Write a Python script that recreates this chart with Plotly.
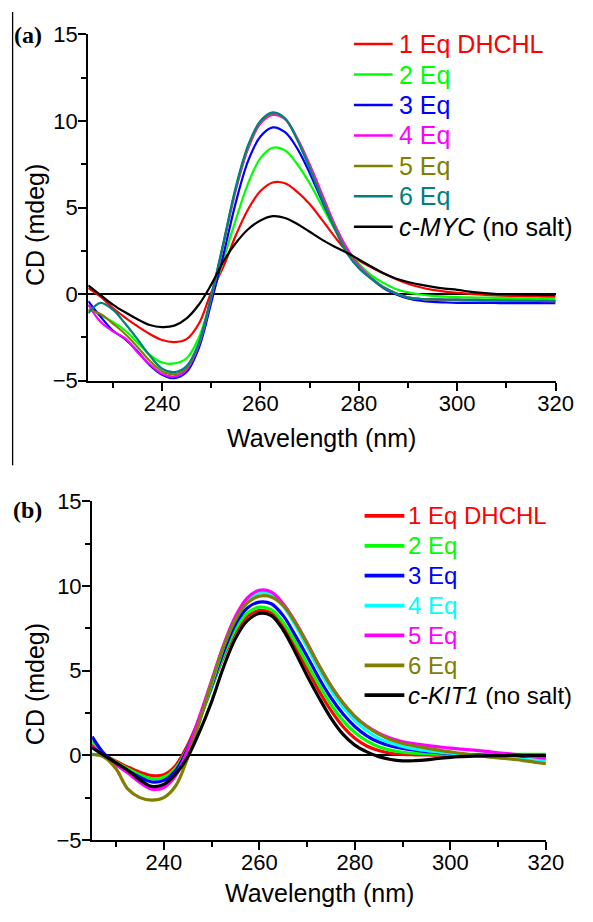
import plotly.graph_objects as go

W, H = 593, 922

wavelength = [225, 227.5, 230, 232.5, 235, 237.5, 240, 242.5, 245, 247.5, 250, 252.5, 255,
              257.5, 260, 262.5, 265, 267.5, 270, 272.5, 275, 277.5, 280, 282.5, 285, 287.5,
              290, 292.5, 295, 297.5, 300, 302.5, 305, 307.5, 310, 312.5, 315, 317.5, 320]

# ---- panel (a): c-MYC ----
myc_names = ["1 Eq DHCHL", "2 Eq", "3 Eq", "4 Eq", "5 Eq", "6 Eq", "<i>c-MYC</i> (no salt)"]
myc_colors = ["#ff0000", "#00ff00", "#0000ff", "#ff00ff", "#808000", "#008080", "#000000"]
myc_1eq = [0.35, -0.15, -0.8, -1.35, -1.85, -2.3, -2.65, -2.77, -2.6, -1.7, 0.1, 1.6, 3.4, 4.9,
           5.95, 6.45, 6.4, 5.9, 5.2, 4.3, 3.35, 2.5, 1.95, 1.55, 1.2, 0.88, 0.6, 0.4, 0.25, 0.15,
           0.08, 0.02, -0.03, -0.07, -0.1, -0.12, -0.13, -0.14, -0.15]
myc_2eq = [-0.65, -1.2, -1.6, -2.1, -2.8, -3.5, -3.95, -4.0, -3.7, -2.5, -0.3, 2.0, 4.3, 6.4,
           7.85, 8.45, 8.3, 7.5, 6.4, 5.1, 3.8, 2.65, 1.75, 1.1, 0.65, 0.3, 0.1, -0.02, -0.1, -0.14,
           -0.17, -0.19, -0.2, -0.21, -0.22, -0.24, -0.25, -0.27, -0.28]
myc_3eq = [-0.4, -1.3, -2.1, -2.6, -3.3, -4.1, -4.65, -4.85, -4.5, -3.1, -0.5, 2.3, 5.3, 7.7,
           9.1, 9.63, 9.35, 8.4, 7.0, 5.4, 3.9, 2.6, 1.6, 0.9, 0.35, 0.0, -0.25, -0.38, -0.45, -0.48,
           -0.5, -0.5, -0.51, -0.51, -0.52, -0.52, -0.52, -0.52, -0.52]
myc_4eq = [-0.6, -1.6, -2.15, -2.55, -3.35, -4.05, -4.6, -4.75, -4.35, -2.9, -0.2, 2.9, 6.0, 8.4,
           9.85, 10.35, 10.1, 9.0, 7.5, 5.8, 4.1, 2.7, 1.65, 0.95, 0.4, 0.05, -0.18, -0.28, -0.32,
           -0.34, -0.35, -0.36, -0.37, -0.38, -0.38, -0.39, -0.39, -0.4, -0.4]
myc_5eq = [-0.9, -1.15, -1.7, -2.3, -3.05, -3.85, -4.45, -4.62, -4.25, -2.85, -0.15, 2.95, 6.1, 8.5,
           9.95, 10.45, 10.12, 8.95, 7.35, 5.6, 3.95, 2.5, 1.55, 0.92, 0.4, 0.05, -0.19, -0.27, -0.3,
           -0.31, -0.32, -0.33, -0.34, -0.35, -0.36, -0.37, -0.38, -0.39, -0.4]
myc_6eq = [-1.1, -0.5, -0.9, -1.7, -2.6, -3.55, -4.3, -4.5, -4.15, -2.8, -0.1, 3.0, 6.2, 8.6,
           10.0, 10.5, 10.15, 8.9, 7.25, 5.5, 3.85, 2.4, 1.5, 0.9, 0.4, 0.05, -0.2, -0.28, -0.3,
           -0.31, -0.32, -0.33, -0.34, -0.35, -0.36, -0.37, -0.38, -0.39, -0.4]
myc_nosalt = [0.5, -0.05, -0.6, -1.05, -1.45, -1.78, -1.9, -1.82, -1.4, -0.6, 0.55, 1.9, 2.95, 3.75,
              4.25, 4.5, 4.4, 4.05, 3.6, 3.15, 2.75, 2.4, 2.0, 1.6, 1.2, 0.9, 0.7, 0.55, 0.42, 0.32,
              0.25, 0.15, 0.07, 0.02, 0.0, -0.02, -0.03, -0.04, -0.04]
myc_series = [myc_1eq, myc_2eq, myc_3eq, myc_4eq, myc_5eq, myc_6eq, myc_nosalt]

# ---- panel (b): c-KIT1 ----
kit_names = ["1 Eq DHCHL", "2 Eq", "3 Eq", "4 Eq", "5 Eq", "6 Eq", "<i>c-KIT1</i> (no salt)"]
kit_colors = ["#ff0000", "#00ff00", "#0000ff", "#00ffff", "#ff00ff", "#808000", "#000000"]
kit_1eq = [0.65, 0.05, -0.35, -0.7, -1.0, -1.2, -1.15, -0.6, 0.6, 2.2, 4.0, 5.8, 7.3, 8.2, 8.55,
           8.4, 7.6, 6.4, 5.1, 3.8, 2.65, 1.7, 1.0, 0.55, 0.28, 0.12, 0.05, 0.03, 0.02, 0.01, 0.0,
           0.0, 0.0, 0.0, 0.0, 0.0, 0.0, 0.0, 0.0]
kit_2eq = [0.85, 0.05, -0.4, -0.8, -1.15, -1.38, -1.3, -0.75, 0.45, 2.1, 4.0, 5.9, 7.45, 8.4, 8.75,
           8.6, 7.85, 6.7, 5.4, 4.15, 3.0, 2.05, 1.35, 0.85, 0.5, 0.3, 0.18, 0.12, 0.09, 0.07, 0.06,
           0.05, 0.05, 0.05, 0.05, 0.05, 0.05, 0.05, 0.05]
kit_3eq = [1.1, 0.1, -0.45, -0.9, -1.3, -1.58, -1.48, -0.9, 0.4, 2.15, 4.1, 6.1, 7.75, 8.7, 9.05,
           8.95, 8.25, 7.1, 5.85, 4.55, 3.4, 2.45, 1.7, 1.15, 0.78, 0.55, 0.4, 0.3, 0.22, 0.16, 0.1,
           0.06, 0.02, -0.01, -0.03, -0.05, -0.06, -0.07, -0.08]
kit_4eq = [0.05, -0.05, -0.5, -1.0, -1.5, -1.9, -1.8, -1.15, 0.2, 2.1, 4.2, 6.4, 8.1, 9.15, 9.6,
           9.5, 8.8, 7.7, 6.4, 5.05, 3.85, 2.85, 2.05, 1.45, 1.0, 0.72, 0.52, 0.38, 0.28, 0.2, 0.12,
           0.06, 0.0, -0.06, -0.12, -0.18, -0.24, -0.29, -0.34]
kit_5eq = [0.55, -0.05, -0.55, -1.05, -1.6, -2.0, -1.9, -1.2, 0.3, 2.3, 4.4, 6.5, 8.2, 9.3, 9.75,
           9.65, 8.95, 7.9, 6.65, 5.3, 4.1, 3.1, 2.3, 1.72, 1.3, 1.0, 0.8, 0.68, 0.58, 0.5, 0.42,
           0.36, 0.3, 0.23, 0.15, 0.08, 0.0, -0.1, -0.19]
kit_6eq = [0.05, -0.1, -0.8, -2.0, -2.5, -2.65, -2.5, -1.8, -0.15, 2.0, 4.3, 6.4, 8.0, 9.0, 9.4,
           9.35, 8.85, 7.85, 6.6, 5.3, 4.1, 3.1, 2.3, 1.7, 1.25, 0.92, 0.7, 0.55, 0.42, 0.3, 0.2,
           0.1, 0.0, -0.08, -0.15, -0.22, -0.3, -0.4, -0.5]
kit_nosalt = [0.45, 0.0, -0.45, -0.9, -1.45, -1.84, -1.72, -1.1, -0.1, 1.4, 3.15, 5.2, 6.9, 7.95,
              8.38, 8.25, 7.4, 6.1, 4.7, 3.4, 2.2, 1.25, 0.6, 0.2, -0.08, -0.25, -0.33, -0.32, -0.27,
              -0.18, -0.12, -0.08, -0.05, -0.03, -0.02, -0.01, 0.0, 0.0, 0.0]
kit_series = [kit_1eq, kit_2eq, kit_3eq, kit_4eq, kit_5eq, kit_6eq, kit_nosalt]

x_ticks = [240, 260, 280, 300, 320]
x_minor = [230, 250, 270, 290, 310]
y_ticks = [-5, 0, 5, 10, 15]
y_minor = [-2.5, 2.5, 7.5, 12.5]

FONT = "Liberation Sans, Arial, sans-serif"

fig = go.Figure()

for vals, name, col in zip(myc_series, myc_names, myc_colors):
    fig.add_trace(go.Scatter(x=wavelength, y=vals, name=name, mode="lines",
                             line=dict(color=col, width=2.2, shape="spline", smoothing=1),
                             xaxis="x", yaxis="y", showlegend=False))
for vals, name, col in zip(kit_series, kit_names, kit_colors):
    fig.add_trace(go.Scatter(x=wavelength, y=vals, name=name, mode="lines",
                             line=dict(color=col, width=3.2, shape="spline", smoothing=1),
                             xaxis="x2", yaxis="y2", showlegend=False))


def px(x):
    return x / W


def py(y):
    return 1 - y / H


axis_common = dict(showline=True, linecolor="black", linewidth=2.2, ticks="outside",
                   ticklen=8, tickwidth=2, tickcolor="black", showgrid=False, mirror=False,
                   tickfont=dict(family=FONT, size=22, color="black"))
minor_x = dict(tickvals=x_minor, ticks="outside", ticklen=5, tickwidth=2, tickcolor="black")
minor_y = dict(tickvals=y_minor, ticks="outside", ticklen=5, tickwidth=2, tickcolor="black")

fig.update_layout(
    width=W, height=H, margin=dict(l=0, r=0, t=0, b=0),
    paper_bgcolor="white", plot_bgcolor="white",
    xaxis=dict(domain=[px(91), px(573)], range=[225, 320], tickvals=x_ticks, minor=minor_x,
               anchor="y", zeroline=False, ticklabelstandoff=-6, **axis_common),
    yaxis=dict(domain=[py(379), py(23)], range=[-5, 15], tickvals=y_ticks, minor=minor_y,
               anchor="x", zeroline=True, zerolinecolor="black", zerolinewidth=2,
               ticklabelstandoff=-4, **axis_common),
    xaxis2=dict(domain=[px(95), px(563)], range=[225, 320], tickvals=x_ticks, minor=minor_x,
                anchor="y2", zeroline=False, ticklabelstandoff=-6, **axis_common),
    yaxis2=dict(domain=[py(851), py(503)], range=[-5, 15], tickvals=y_ticks, minor=minor_y,
                anchor="x2", zeroline=True, zerolinecolor="black", zerolinewidth=2,
                ticklabelstandoff=-4, **axis_common),
)

annotations = []
shapes = []


def add_legend(names, colors, x0, x1, xt, y0, dy, lw, fs):
    for i, (n, c) in enumerate(zip(names, colors)):
        yy = y0 + i * dy
        shapes.append(dict(type="line", xref="paper", yref="paper", x0=px(x0), x1=px(x1),
                           y0=py(yy), y1=py(yy), line=dict(color=c, width=lw)))
        annotations.append(dict(text=n, xref="paper", yref="paper", x=px(xt), y=py(yy),
                                xanchor="left", yanchor="middle", showarrow=False,
                                borderpad=0,
                                font=dict(family=FONT, size=fs, color=c)))


add_legend(myc_names, myc_colors, 365, 405, 410, 33, 31.3, 2.5, 25)
add_legend(kit_names, kit_colors, 376, 417, 420, 518, 30.7, 3.8, 24)

for (xc, yc) in [(36, 219), (36, 691)]:
    annotations.append(dict(text="CD (mdeg)", xref="paper", yref="paper", x=px(xc), y=py(yc),
                            xanchor="center", yanchor="middle", textangle=-90, showarrow=False,
                            font=dict(family=FONT, size=25, color="black")))
for (xc, yc) in [(332, 438), (329, 906)]:
    annotations.append(dict(text="Wavelength (nm)", xref="paper", yref="paper", x=px(xc),
                            y=py(yc), xanchor="center", yanchor="middle", showarrow=False,
                            font=dict(family=FONT, size=25, color="black")))

for (lab, xl, yl) in [("<b>(a)</b>", 12, 24), ("<b>(b)</b>", 11, 512)]:
    annotations.append(dict(text=lab, xref="paper", yref="paper", x=px(xl), y=py(yl),
                            xanchor="left", yanchor="middle", showarrow=False,
                            font=dict(family="Liberation Serif, Times New Roman, serif",
                                      size=24, color="black")))

shapes.append(dict(type="line", xref="paper", yref="paper", x0=px(13), x1=px(13),
                   y0=py(0), y1=py(466), line=dict(color="black", width=1.3)))

fig.update_layout(annotations=annotations, shapes=shapes)

# place the figure exactly in the page, with no body margin or scrolling
post = ("var gd=document.getElementById('{plot_id}');"
        "var de=document.documentElement, b=document.body;"
        "de.style.margin='0';de.style.padding='0';de.style.overflow='hidden';"
        "b.style.margin='0';b.style.padding='0';b.style.overflow='hidden';"
        "gd.style.position='fixed';gd.style.left='0px';gd.style.top='0px';")

fig.write_html("out.html", post_script=post, config={"displayModeBar": False})
